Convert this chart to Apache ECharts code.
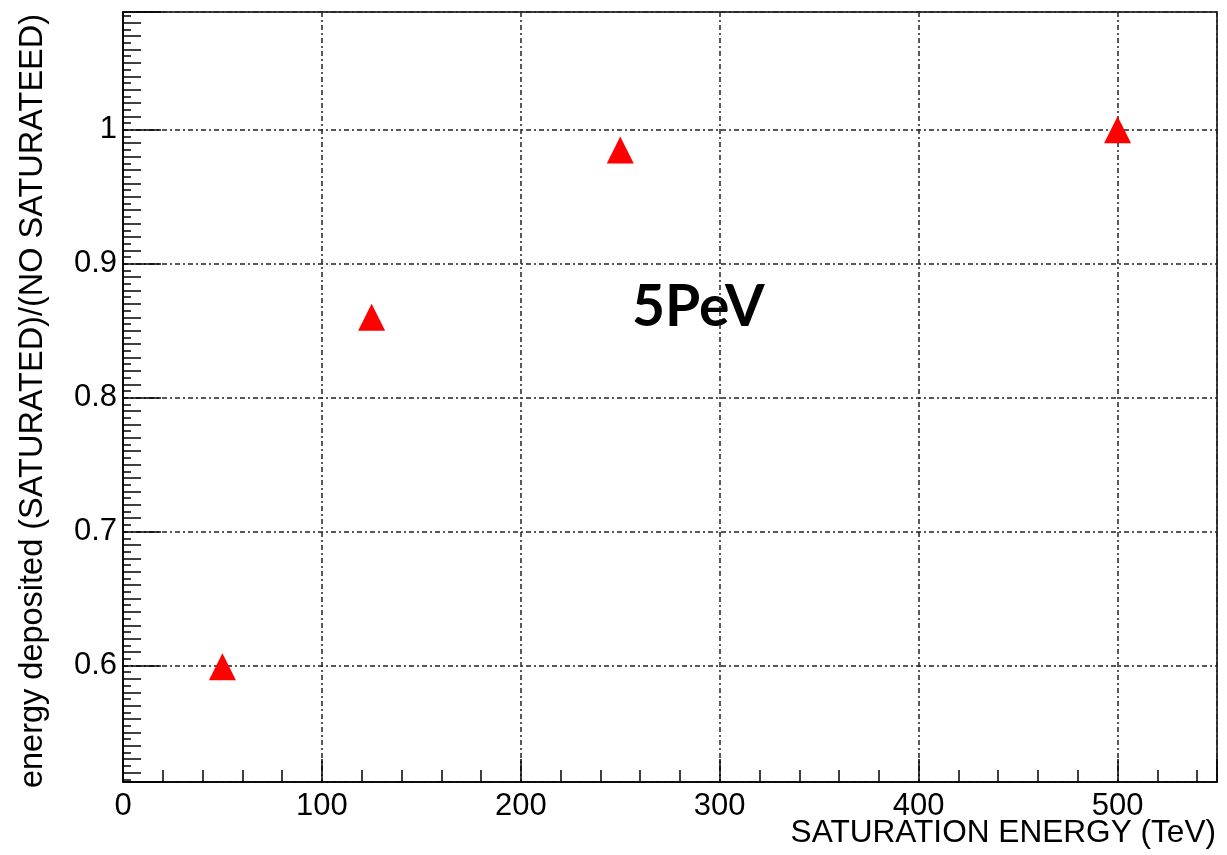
<!DOCTYPE html>
<html>
<head>
<meta charset="utf-8">
<script src="https://cdn.jsdelivr.net/npm/echarts@6/dist/echarts.min.js"></script>
<style>
  html, body { margin: 0; padding: 0; background: #fff; }
  #chart { width: 1227px; height: 855px; }
</style>
</head>
<body>
<div id="chart"></div>
<script>
// Saturation energy (TeV) and the deposited-energy ratio, saturated / not saturated
const saturationEnergy = [50, 125, 250, 500];
const depositRatio = [0.599, 0.860, 0.985, 1.0];

const xRange = [0, 550];
const yRange = [0.513, 1.088];
const xTitle = 'SATURATION ENERGY (TeV)';
const yTitle = 'energy deposited (SATURATED)/(NO SATURATEED)';
const tag = '5PeV';

const points = saturationEnergy.map((x, i) => [x, depositRatio[i]]);

const labelFont = { fontFamily: 'Liberation Sans, Arial, sans-serif', fontSize: 31, color: '#000' };
const gridDash = { color: '#222', width: 1.5, type: [5, 3, 2, 3] };

const chart = echarts.init(document.getElementById('chart'), null, { renderer: 'canvas' });
chart.setOption({
  animation: false,
  backgroundColor: '#fff',
  grid: {
    left: 123, right: 10, top: 12, bottom: 73,
    show: true, borderColor: '#000', borderWidth: 1.5, backgroundColor: 'transparent'
  },
  xAxis: {
    type: 'value',
    min: xRange[0], max: xRange[1],
    minInterval: 100, maxInterval: 100,
    axisLine: { show: true, onZero: false, lineStyle: { color: '#000', width: 1.5 } },
    axisTick: { show: true, inside: true, length: 23, lineStyle: { color: '#000', width: 1.5 } },
    minorTick: { show: true, splitNumber: 5, length: 12, lineStyle: { color: '#000', width: 1.5 } },
    axisLabel: Object.assign({ margin: 9, showMinLabel: true, showMaxLabel: false }, labelFont),
    splitLine: { show: true, lineStyle: gridDash }
  },
  yAxis: [
    {
      type: 'value',
      min: yRange[0], max: yRange[1],
      minInterval: 0.1, maxInterval: 0.1,
      axisLine: { show: true, onZero: false, lineStyle: { color: '#000', width: 1.5 } },
      axisTick: { show: true, inside: true, length: 38, lineStyle: { color: '#000', width: 1.5 } },
      minorTick: { show: true, splitNumber: 10, length: 18, lineStyle: { color: '#000', width: 1.5 } },
      axisLabel: Object.assign({ margin: 6, showMinLabel: false, showMaxLabel: false }, labelFont),
      splitLine: { show: true, lineStyle: gridDash }
    },
    {
      // finest tick level, every 0.005
      type: 'value',
      position: 'left',
      min: yRange[0], max: yRange[1],
      minInterval: 0.1, maxInterval: 0.1,
      axisLine: { show: false },
      axisTick: { show: true, inside: true, length: 8, lineStyle: { color: '#000', width: 1.5 } },
      minorTick: { show: true, splitNumber: 20, length: 8, lineStyle: { color: '#000', width: 1.5 } },
      axisLabel: { show: false },
      splitLine: { show: false }
    }
  ],
  graphic: [
    {
      type: 'text', x: 1216, y: 833,
      style: { text: xTitle, textAlign: 'right', textVerticalAlign: 'middle',
               font: '31.6px "Liberation Sans", Arial, sans-serif', fill: '#000' }
    },
    {
      type: 'text', x: 33, y: 401, rotation: Math.PI / 2,
      style: { text: yTitle, textAlign: 'center', textVerticalAlign: 'middle',
               font: '32.5px "Liberation Sans", Arial, sans-serif', fill: '#000' }
    },
    {
      type: 'text', x: 632, y: 308,
      style: { text: tag, textAlign: 'left', textVerticalAlign: 'middle',
               font: 'bold 57px Lato, "Open Sans", sans-serif', fill: '#000' }
    }
  ],
  series: [
    {
      type: 'scatter',
      xAxisIndex: 0, yAxisIndex: 0,
      data: points,
      symbol: 'triangle',
      symbolSize: 27,
      itemStyle: { color: '#ff0000', opacity: 1 },
      z: 5
    }
  ]
});
</script>
</body>
</html>
